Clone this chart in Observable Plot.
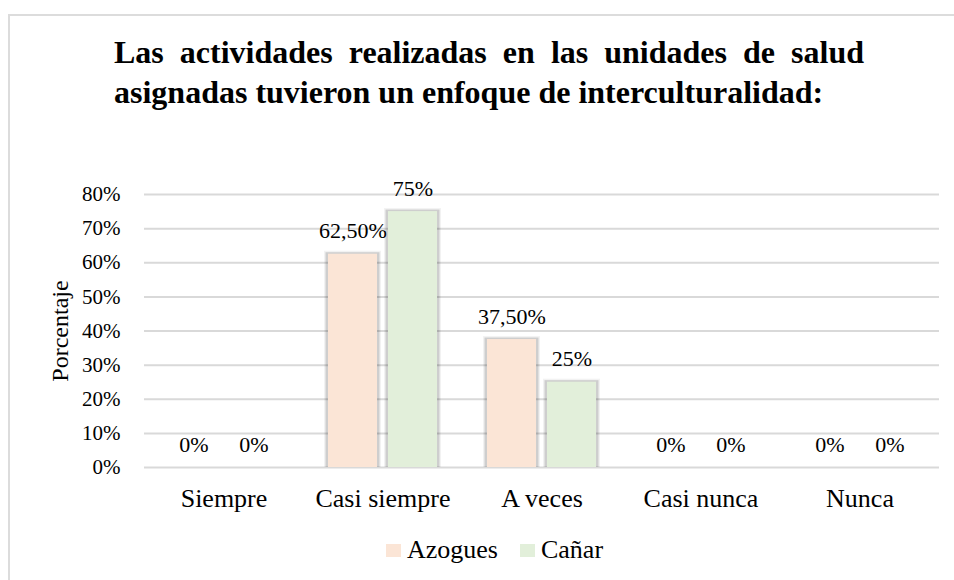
<!DOCTYPE html>
<html>
<head>
<meta charset="utf-8">
<script src="https://cdn.jsdelivr.net/npm/d3@7"></script>
<script src="https://cdn.jsdelivr.net/npm/@observablehq/plot@0.6"></script>
<style>
  html, body { margin: 0; padding: 0; background: #fff; }
  #wrap { position: relative; width: 954px; height: 580px; overflow: hidden; font-family: "Liberation Serif", "Times New Roman", serif; color: #000; }
  #frame { position: absolute; left: 8px; top: 14px; width: 1000px; height: 700px; border: 2px solid #dcdcdc; box-sizing: border-box; }
  #title { position: relative; margin: 0; padding-top: 32px; margin-left: 114px; width: 750px; height: 80px; font-size: 32px; font-weight: bold; line-height: 40px; text-align: justify; text-align-last: left; }
  #chart { position: relative; }
  #chart svg { display: block; }
  #chart svg text { font-family: "Liberation Serif", "Times New Roman", serif; }
  #legend { position: relative; margin-top: 23px; margin-left: 386px; height: 30px; line-height: 30px; font-size: 26px; display: flex; align-items: center; }
  .sw { display: inline-block; width: 15px; height: 13px; margin-right: 6px; }
  .item { display: flex; align-items: center; margin-right: 22px; }
</style>
</head>
<body>
<div id="wrap">
  <div id="frame"></div>
  <div id="title">Las actividades realizadas en las unidades de salud asignadas tuvieron un enfoque de interculturalidad:</div>
  <div id="chart"></div>
  <div id="legend"></div>
</div>
<script>
const categories = ["Siempre", "Casi siempre", "A veces", "Casi nunca", "Nunca"];
const seriesNames = ["Azogues", "Cañar"];
const azogues = [0, 62.5, 37.5, 0, 0];
const canar = [0, 75, 25, 0, 0];
const yTicks = [0, 10, 20, 30, 40, 50, 60, 70, 80];
const colors = ["#FBE5D6", "#E2EFDA"];

const rows = [];
categories.forEach((c, i) => {
  rows.push({cat: c, serie: seriesNames[0], value: azogues[i]});
  rows.push({cat: c, serie: seriesNames[1], value: canar[i]});
});
const nonZero = rows.filter(d => d.value > 0);
const fmt = v => (Number.isInteger(v) ? String(v) : v.toFixed(2).replace(".", ",")) + "%";
const FONT = "Liberation Serif";

const chart = Plot.plot({
  width: 954,
  height: 400,
  marginLeft: 143,
  marginRight: 14,
  marginTop: 82,
  marginBottom: 45,
  style: {fontFamily: FONT, color: "#000", background: "transparent"},
  fx: {domain: categories, padding: 0, label: null, axis: null},
  x: {domain: seriesNames, paddingInner: 0.18, paddingOuter: 0.4, axis: null},
  y: {domain: [0, 80], axis: null},
  color: {domain: seriesNames, range: colors},
  marks: [
    Plot.ruleY(yTicks, {stroke: "#d9d9d9", strokeWidth: 2}),
    Plot.barY(nonZero, {fx: "cat", x: "serie", y: "value", fill: "#000", fillOpacity: 0.05, insetLeft: -4, insetRight: -4, insetTop: -3}),
    Plot.barY(nonZero, {fx: "cat", x: "serie", y: "value", fill: "#000", fillOpacity: 0.15, insetLeft: -2.5, insetRight: -2.5, insetTop: -1.5}),
    Plot.barY(nonZero, {fx: "cat", x: "serie", y: "value", fill: "serie"}),
    Plot.text(rows, {fx: "cat", x: "serie", y: "value", text: d => fmt(d.value), lineAnchor: "bottom", dy: -16, fontSize: 22, fontFamily: FONT, fill: "#000"}),
    Plot.axisY({ticks: yTicks, tickFormat: d => d + "%", tickSize: 0, tickPadding: 24, fontSize: 21, fontFamily: FONT, label: "Porcentaje", labelAnchor: "center", labelOffset: 94, labelArrow: "none"}),
    Plot.axisFx({anchor: "bottom", tickSize: 0, tickPadding: 21, fontSize: 26, fontFamily: FONT, label: null})
  ]
});
chart.querySelectorAll("[aria-label='y-axis label'] text, [aria-label='y-axis label']").forEach(t => t.setAttribute("font-size", "24"));
document.getElementById("chart").appendChild(chart);

const legend = document.getElementById("legend");
seriesNames.forEach((s, i) => {
  const it = document.createElement("span");
  it.className = "item";
  const sw = document.createElement("span");
  sw.className = "sw";
  sw.style.background = colors[i];
  it.appendChild(sw);
  it.appendChild(document.createTextNode(s));
  legend.appendChild(it);
});
</script>
</body>
</html>
